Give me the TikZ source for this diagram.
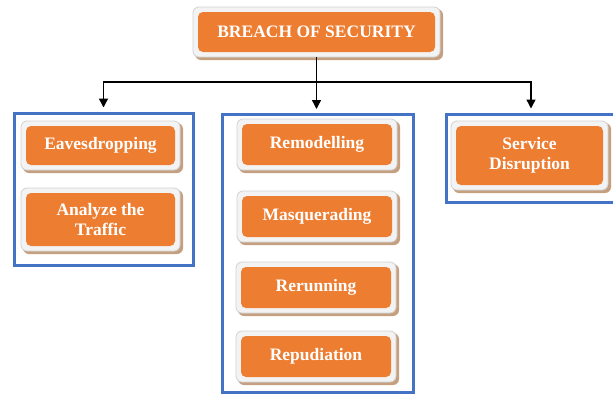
\documentclass[tikz,border=0pt]{standalone}
\usepackage{fontspec}
\setmainfont{Liberation Serif}
\usetikzlibrary{arrows.meta,calc}
\definecolor{org}{HTML}{ED7D31}
\definecolor{blu}{HTML}{4472C4}
\definecolor{shd}{HTML}{C4A080}
\definecolor{frm}{HTML}{F3F3F3}
\definecolor{frd}{HTML}{D2D2D2}
\tikzset{
  shadowbox/.style={fill=shd, rounded corners=6pt},
  framebox/.style={fill=frm, draw=frd, line width=0.8pt, rounded corners=6pt},
  orangebox/.style={fill=org, rounded corners=5pt},
  lbl/.style={text=white, font=\bfseries\fontsize{17.5}{20}\selectfont, align=center},
  group/.style={draw=blu, line width=3pt},
  conn/.style={line width=1.4pt, black},
  arr/.style={conn, -{Triangle[width=9pt,length=9pt]}, shorten >=4pt}
}
% name, x1, y1, x2, y2 (inner orange), text
\newcommand\mybox[6]{%
  \fill[shadowbox] (#2-3,#3-3) rectangle (#4+8,#5+8);
  \draw[framebox] (#2-5,#3-5) rectangle (#4+5,#5+5);
  \fill[orangebox] (#2,#3) rectangle (#4,#5);
  \node[lbl, inner sep=0pt] (#1) at ({(#2+#4)/2},{(#3+#5)/2}) {#6};
  \coordinate (#1s) at ({(#2+#4)/2},#5+5);
}
\begin{document}
\begin{tikzpicture}[x=1pt,y=-1pt]
\useasboundingbox (0,0) rectangle (613,394);
% groups
\node[group, inner sep=0pt, minimum width=179pt, minimum height=152pt] (L) at (103.5,189) {};
\node[group, inner sep=0pt, minimum width=191pt, minimum height=278pt] (M) at (317.5,253.5) {};
\node[group, inner sep=0pt, minimum width=170pt, minimum height=88pt] (R) at (531,158) {};
% boxes
\mybox{top}{198}{12}{435}{52}{BREACH OF SECURITY}
\mybox{eav}{26}{126}{175}{165}{Eavesdropping}
\mybox{ana}{26}{193}{175}{246}{Analyze the\\Traffic}
\mybox{rem}{242}{124}{392}{165}{Remodelling}
\mybox{mas}{242}{196}{392}{237}{Masquerading}
\mybox{rer}{241}{267}{391}{308}{Rerunning}
\mybox{rep}{241}{336}{391}{377}{Repudiation}
\mybox{ser}{456}{126}{603}{185}{Service\\Disruption}
% connectors
\coordinate (j) at ($(tops)+(0,25)$);
\draw[conn] (tops) -- (j);
\draw[arr] (j) -- (j |- M.north);
\draw[arr] (j) -| (L.north);
\draw[arr] (j) -| (R.north);
\end{tikzpicture}
\end{document}
